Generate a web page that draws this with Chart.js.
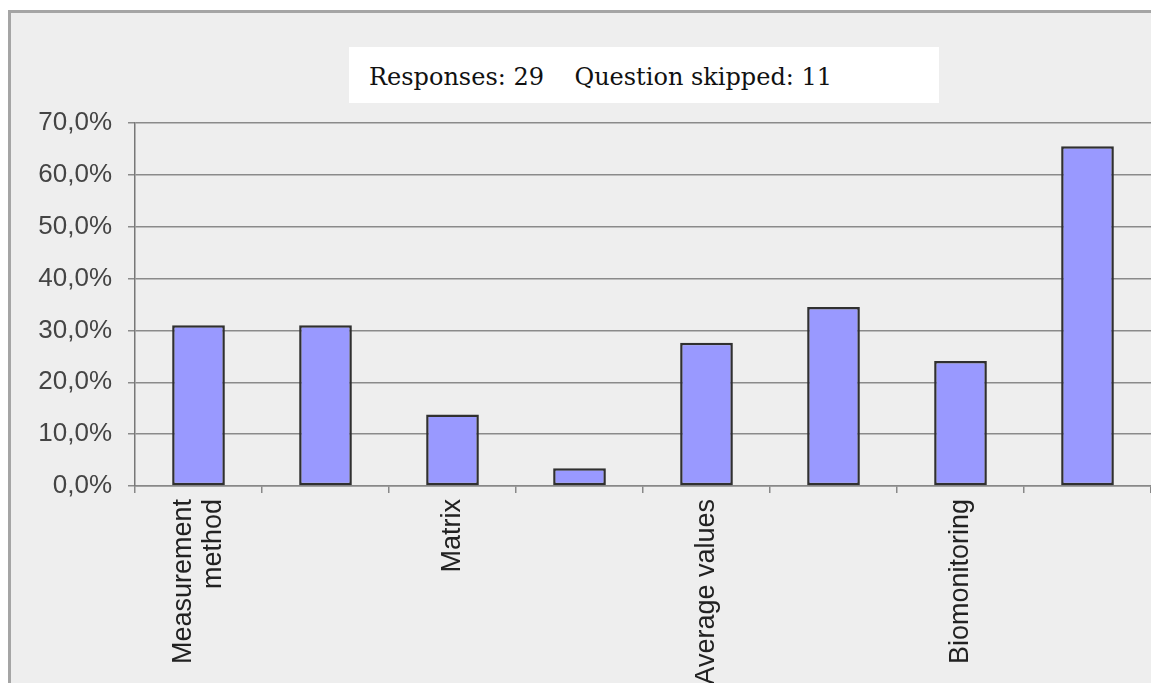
<!DOCTYPE html>
<html>
<head>
<meta charset="utf-8">
<script src="https://cdn.jsdelivr.net/npm/chart.js@4"></script>
<style>
  html, body { margin: 0; padding: 0; background: #fff; }
  #frame {
    position: absolute; left: 8px; top: 10px; width: 1143px; height: 673px;
    background: #eeeeee; border-left: 3px solid #a5a5a5; border-top: 3px solid #a5a5a5;
    box-sizing: border-box;
  }
  #caption {
    position: absolute; left: 349px; top: 47px; width: 590px; height: 56px;
    background: #fff; font-family: "DejaVu Serif", serif; font-size: 24px;
    color: #111; white-space: pre; box-sizing: border-box; padding: 16px 0 0 20px;
  }
  #chart { position: absolute; left: 0; top: 0; }
</style>
</head>
<body>
<div id="frame"></div>
<canvas id="chart" width="1151" height="683"></canvas>
<div id="caption">Responses: 29    Question skipped: 11</div>
<script>
// Dados
const categories = [['Measurement', 'method'], '', 'Matrix', '', 'Average values', '', 'Biomonitoring', ''];
const shares = [31.0, 31.0, 13.8, 3.4, 27.6, 34.5, 24.1, 65.5];
const yMax = 70;
const yStep = 10;

// centraliza rótulos de duas linhas sobre a barra
const centerMultiline = {
  id: 'centerMultiline',
  afterUpdate(chart) {
    const s = chart.scales.x;
    const items = s.getLabelItems(chart.chartArea);
    items.forEach(function(it) {
      if (Array.isArray(it.label) && it.label.length > 1) {
        const lh = it.font.lineHeight;
        it.options.translation[0] -= (it.label.length - 1) * lh / 2;
      }
    });
  }
};

const ctx = document.getElementById('chart').getContext('2d');
const chart = new Chart(ctx, {
  type: 'bar',
  data: {
    labels: categories,
    datasets: [{
      data: shares,
      backgroundColor: '#9999ff',
      borderColor: '#303030',
      borderWidth: 2.5,
      borderSkipped: false,
      categoryPercentage: 1,
      barPercentage: 0.415
    }]
  },
  options: {
    responsive: false,
    animation: false,
    layout: { padding: { left: 0, top: 123, right: 0, bottom: 0 } },
    plugins: { legend: { display: false }, tooltip: { enabled: false } },
    scales: {
      x: {
        grid: { drawOnChartArea: false, tickLength: 7, color: '#888', lineWidth: 1.5 },
        border: { color: '#888', width: 1.5 },
        ticks: {
          maxRotation: 90, minRotation: 90, autoSkip: false, padding: 6,
          color: '#222', font: { family: 'Liberation Sans, Arial', size: 27, lineHeight: 1.1 }
        },
        afterFit: function(scale) { scale.height = 197; }
      },
      y: {
        min: 0, max: yMax,
        grid: { tickLength: 7, color: '#8a8a8a', lineWidth: 1.5 },
        border: { color: '#777', width: 1.5 },
        ticks: {
          stepSize: yStep, padding: 16, color: '#444',
          font: { family: 'Liberation Sans, Arial', size: 26 },
          callback: function(v) { return v.toFixed(1).replace('.', ',') + '%'; }
        },
        afterFit: function(scale) { scale.width = 135; }
      }
    }
  },
  plugins: [centerMultiline]
});
</script>
</body>
</html>
